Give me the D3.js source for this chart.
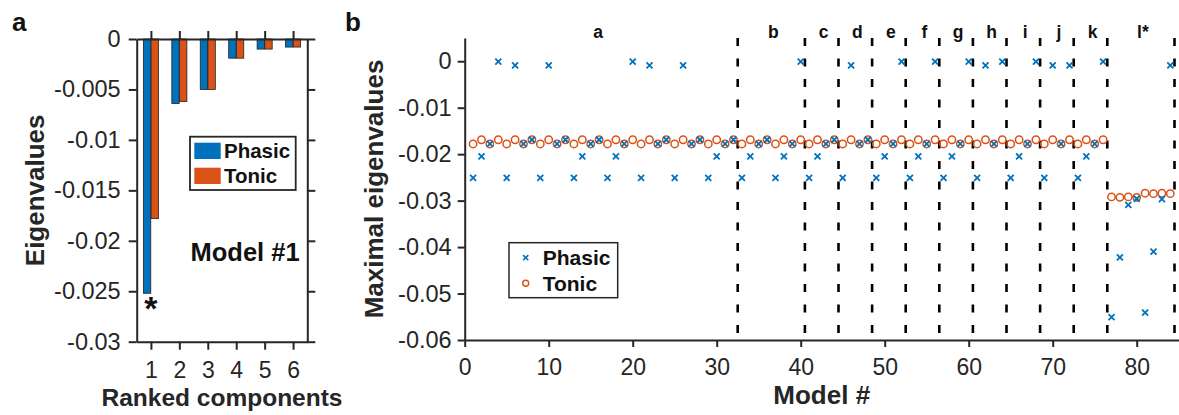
<!DOCTYPE html>
<html>
<head>
<meta charset="utf-8">
<script src="https://cdn.jsdelivr.net/npm/d3@7"></script>
<style>
  html, body { margin: 0; padding: 0; background: #fff; }
  svg { display: block; font-family: "Liberation Sans", Arial, sans-serif; }
</style>
</head>
<body>
<svg id="fig" width="1179" height="415"></svg>
<script>
// ---- Panel a: ranked eigenvalues of model #1 ----
const components = [1, 2, 3, 4, 5, 6];
const phasicEig = [-0.0252, -0.0064, -0.0050, -0.0019, -0.0010, -0.0008];
const tonicEig  = [-0.0178, -0.0062, -0.0050, -0.0019, -0.0010, -0.0008];
const eigTicks  = [0, -0.005, -0.01, -0.015, -0.02, -0.025, -0.03];

// ---- Panel b: maximal eigenvalue of every model ----
const phasicMax = [
  -0.0251, -0.0205, -0.0178, -0.0001, -0.0251, -0.0009, -0.0178, -0.0169,
  -0.0251, -0.0009, -0.0178, -0.0169, -0.0251, -0.0205, -0.0178, -0.0169,
  -0.0251, -0.0205, -0.0178, -0.0001, -0.0251, -0.0009, -0.0178, -0.0169,
  -0.0251, -0.0009, -0.0178, -0.0169, -0.0251, -0.0205, -0.0178, -0.0169,
  -0.0251, -0.0205, -0.0178, -0.0169, -0.0251, -0.0205, -0.0178, -0.0001,
  -0.0251, -0.0205, -0.0178, -0.0169, -0.0251, -0.0009, -0.0178, -0.0169,
  -0.0251, -0.0205, -0.0178, -0.0001, -0.0251, -0.0205, -0.0178, -0.0001,
  -0.0251, -0.0205, -0.0178, -0.0001, -0.0251, -0.0009, -0.0178, -0.0001,
  -0.0251, -0.0205, -0.0178, -0.0001, -0.0251, -0.0009, -0.0178, -0.0009,
  -0.0251, -0.0205, -0.0178, -0.0001, -0.0551, -0.0422, -0.0309, -0.0296,
  -0.0541, -0.0410, -0.0297, -0.0009
];
const tonicMax = [
  -0.0178, -0.0169, -0.0178, -0.0169, -0.0178, -0.0169, -0.0178, -0.0169,
  -0.0178, -0.0169, -0.0178, -0.0169, -0.0178, -0.0169, -0.0178, -0.0169,
  -0.0178, -0.0169, -0.0178, -0.0169, -0.0178, -0.0169, -0.0178, -0.0169,
  -0.0178, -0.0169, -0.0178, -0.0169, -0.0178, -0.0169, -0.0178, -0.0169,
  -0.0178, -0.0169, -0.0178, -0.0169, -0.0178, -0.0169, -0.0178, -0.0169,
  -0.0178, -0.0169, -0.0178, -0.0169, -0.0178, -0.0169, -0.0178, -0.0169,
  -0.0178, -0.0169, -0.0178, -0.0169, -0.0178, -0.0169, -0.0178, -0.0169,
  -0.0178, -0.0169, -0.0178, -0.0169, -0.0178, -0.0169, -0.0178, -0.0169,
  -0.0178, -0.0169, -0.0178, -0.0169, -0.0178, -0.0169, -0.0178, -0.0169,
  -0.0178, -0.0169, -0.0178, -0.0169, -0.0292, -0.0293, -0.0292, -0.0293,
  -0.0284, -0.0285, -0.0284, -0.0285
];
const modelIds = d3.range(1, phasicMax.length + 1);
const sectionEdges  = [0, 32.5, 40.5, 44.5, 48.5, 52.5, 56.5, 60.5, 64.5, 68.5, 72.5, 76.5, 84.5];
const sectionLabels = ["a", "b", "c", "d", "e", "f", "g", "h", "i", "j", "k", "l*"];
const maxTicksY = [0, -0.01, -0.02, -0.03, -0.04, -0.05, -0.06];
const maxTicksX = [0, 10, 20, 30, 40, 50, 60, 70, 80];

const BLUE = "#0072BD", ORANGE = "#D95319", AXIS = "#262626";
const fmt = d => String(d);

const svg = d3.select("#fig");

function styleAxis(g, fontSize) {
  g.selectAll(".domain").attr("stroke", AXIS).attr("stroke-width", 2);
  g.selectAll(".tick line").attr("stroke", AXIS).attr("stroke-width", 2);
  g.selectAll(".tick text").attr("fill", AXIS)
    .style("font-size", fontSize + "px")
    .style("font-family", "'Liberation Sans', Arial, sans-serif");
}

// ================= Panel a =================
const xA = d3.scaleLinear().domain([0.5, 6.5]).range([136.7, 307.3]);
const yA = d3.scaleLinear().domain([-0.03, 0]).range([341.7, 39]);
const gA = svg.append("g");

const barW = 0.26, barOff = 0.135;
const series = [
  { name: "Phasic", values: phasicEig, color: BLUE, off: -barOff },
  { name: "Tonic",  values: tonicEig,  color: ORANGE, off: barOff }
];
series.forEach(s => {
  gA.append("g").selectAll("rect")
    .data(components)
    .join("rect")
    .attr("x", (c) => xA(c + s.off - barW / 2))
    .attr("width", xA(barW) - xA(0))
    .attr("y", yA(0))
    .attr("height", (c, i) => yA(s.values[i]) - yA(0))
    .attr("fill", s.color)
    .attr("stroke", "#222")
    .attr("stroke-width", 0.8);
});

gA.append("g").attr("transform", `translate(0,${yA(-0.03)})`)
  .call(d3.axisBottom(xA).tickValues(components).tickFormat(d3.format("d"))
    .tickSize(8).tickPadding(12).tickSizeOuter(0))
  .call(g => styleAxis(g, 23));
gA.append("g").attr("transform", `translate(0,${yA(0)})`)
  .call(d3.axisTop(xA).tickValues(components).tickSize(8).tickFormat("").tickSizeOuter(0))
  .call(g => styleAxis(g, 23));
gA.append("g").attr("transform", `translate(${xA(0.5)},0)`)
  .call(d3.axisLeft(yA).tickValues(eigTicks).tickFormat(fmt).tickSize(8).tickPadding(8).tickSizeOuter(0))
  .call(g => styleAxis(g, 23.5));
gA.append("g").attr("transform", `translate(${xA(6.5)},0)`)
  .call(d3.axisRight(yA).tickValues(eigTicks).tickFormat("").tickSize(8).tickSizeOuter(0))
  .call(g => styleAxis(g, 23));

// significance mark under the leading component
gA.append("text")
  .attr("x", xA(1)).attr("y", yA(phasicEig[0]) + 27)
  .attr("text-anchor", "middle")
  .style("font-size", "34px").style("font-weight", "bold").attr("fill", "#111")
  .text("*");

gA.append("text")
  .attr("x", 190.5).attr("y", 261)
  .style("font-size", "25.5px").style("font-weight", "bold").attr("fill", "#111")
  .text("Model #1");

// legend
const legA = gA.append("g");
legA.append("rect").attr("x", 190).attr("y", 136.7).attr("width", 105.7).attr("height", 53.3)
  .attr("fill", "#fff").attr("stroke", AXIS).attr("stroke-width", 1.8);
series.forEach((s, i) => {
  legA.append("rect").attr("x", 194.3).attr("y", 142.7 + i * 25).attr("width", 26.4).attr("height", 16.3)
    .attr("fill", s.color);
  legA.append("text").attr("x", 224).attr("y", 158 + i * 24.5)
    .style("font-size", "20.5px").style("font-weight", "bold").attr("fill", "#111")
    .text(s.name);
});

gA.append("text")
  .attr("transform", `translate(44,${(yA(0) + yA(-0.03)) / 2}) rotate(-90)`)
  .attr("text-anchor", "middle")
  .style("font-size", "26px").style("font-weight", "bold").attr("fill", AXIS)
  .text("Eigenvalues");
gA.append("text")
  .attr("x", (xA(0.5) + xA(6.5)) / 2).attr("y", 406)
  .attr("text-anchor", "middle")
  .style("font-size", "24.5px").style("font-weight", "bold").attr("fill", AXIS)
  .text("Ranked components");
svg.append("text").attr("x", 12).attr("y", 30.5)
  .style("font-size", "26px").style("font-weight", "bold").attr("fill", "#111").text("a");

// ================= Panel b =================
const xB = d3.scaleLinear().domain([0, 85]).range([464.7, 1178.7]);
const yB = d3.scaleLinear().domain([-0.06, 0.005]).range([340, 38]);
const gB = svg.append("g");

// model-family separators
gB.append("g").selectAll("line")
  .data(sectionEdges.slice(1))
  .join("line")
  .attr("x1", d => xB(d)).attr("x2", d => xB(d))
  .attr("y1", yB(0.005)).attr("y2", yB(-0.06))
  .attr("stroke", "#000").attr("stroke-width", 2.6)
  .attr("stroke-dasharray", "8,12.5");

gB.append("g").selectAll("text")
  .data(sectionLabels)
  .join("text")
  .attr("x", (d, i) => xB((sectionEdges[i] + sectionEdges[i + 1]) / 2) + (i === 0 ? -3 : 2))
  .attr("y", 37.5)
  .attr("text-anchor", "middle")
  .style("font-size", "17.5px").style("font-weight", "bold").attr("fill", "#111")
  .text(d => d);

gB.append("g").attr("transform", `translate(0,${yB(-0.06)})`)
  .call(d3.axisBottom(xB).tickValues(maxTicksX).tickSize(7).tickPadding(12).tickSizeOuter(0))
  .call(g => styleAxis(g, 23));
gB.append("g").attr("transform", `translate(${xB(0)},0)`)
  .call(d3.axisLeft(yB).tickValues(maxTicksY).tickFormat(fmt).tickSize(7).tickPadding(6).tickSizeOuter(0))
  .call(g => styleAxis(g, 23.5));

// tonic circles
gB.append("g").selectAll("circle")
  .data(modelIds)
  .join("circle")
  .attr("cx", d => xB(d))
  .attr("cy", (d, i) => yB(tonicMax[i]))
  .attr("r", 3.7)
  .attr("fill", "none").attr("stroke", ORANGE).attr("stroke-width", 1.5);

// phasic crosses
const cross = "M-3,-3L3,3M-3,3L3,-3";
gB.append("g").selectAll("path")
  .data(modelIds)
  .join("path")
  .attr("transform", (d, i) => `translate(${xB(d)},${yB(phasicMax[i])})`)
  .attr("d", cross)
  .attr("fill", "none").attr("stroke", BLUE).attr("stroke-width", 1.8);

// legend
const legB = gB.append("g");
legB.append("rect").attr("x", 509).attr("y", 242.7).attr("width", 108.7).attr("height", 55)
  .attr("fill", "#fff").attr("stroke", AXIS).attr("stroke-width", 1.5);
legB.append("path").attr("transform", "translate(525.7,257.7)")
  .attr("d", "M-2.6,-2.6L2.6,2.6M-2.6,2.6L2.6,-2.6")
  .attr("fill", "none").attr("stroke", BLUE).attr("stroke-width", 1.6);
legB.append("circle").attr("cx", 525.7).attr("cy", 283.3).attr("r", 3)
  .attr("fill", "none").attr("stroke", ORANGE).attr("stroke-width", 1.4);
legB.append("text").attr("x", 542.7).attr("y", 265.3)
  .style("font-size", "21px").style("font-weight", "bold").attr("fill", "#111").text("Phasic");
legB.append("text").attr("x", 542.7).attr("y", 291)
  .style("font-size", "21px").style("font-weight", "bold").attr("fill", "#111").text("Tonic");

gB.append("text")
  .attr("transform", `translate(383,${(yB(0.005) + yB(-0.06)) / 2}) rotate(-90)`)
  .attr("text-anchor", "middle")
  .style("font-size", "26px").style("font-weight", "bold").attr("fill", AXIS)
  .text("Maximal eigenvalues");
gB.append("text")
  .attr("x", (xB(0) + xB(85)) / 2).attr("y", 404)
  .attr("text-anchor", "middle")
  .style("font-size", "26px").style("font-weight", "bold").attr("fill", AXIS)
  .text("Model #");
svg.append("text").attr("x", 345).attr("y", 30.5)
  .style("font-size", "26px").style("font-weight", "bold").attr("fill", "#111").text("b");
</script>
</body>
</html>
